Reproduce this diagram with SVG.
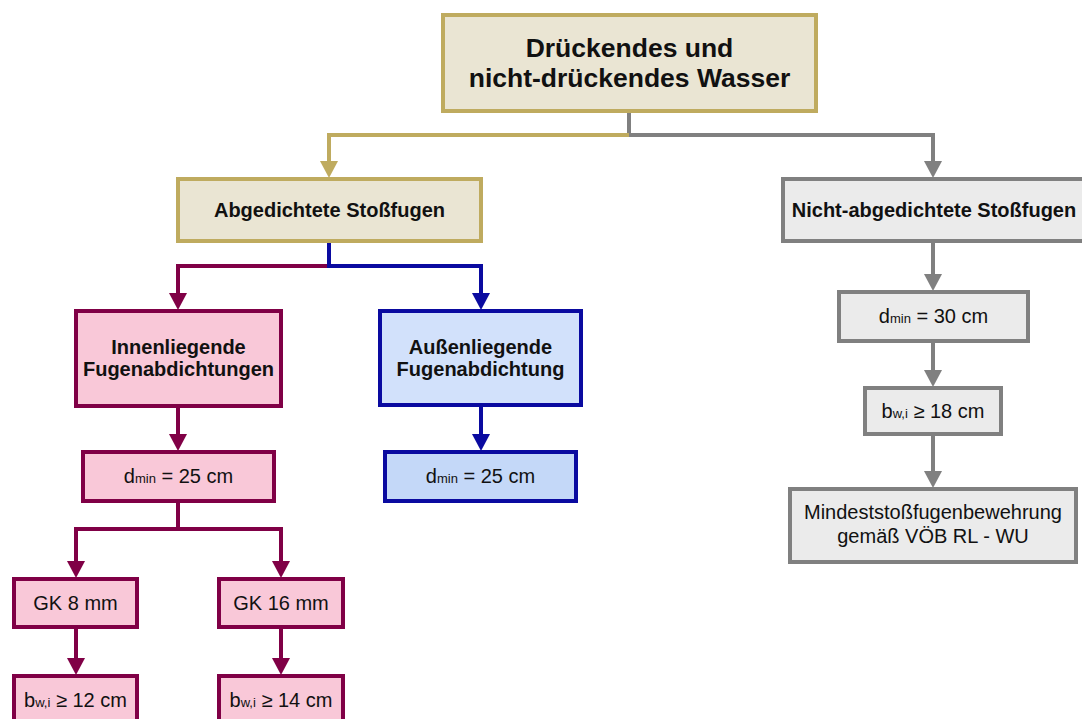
<svg xmlns="http://www.w3.org/2000/svg" width="1082" height="719" viewBox="0 0 1082 719">
  <defs>
    <style>
      text { font-family: "Liberation Sans", Arial, sans-serif; fill: #111; text-anchor: middle; }
      .title { font-size: 26.5px; font-weight: bold; }
      .head { font-size: 20px; font-weight: bold; }
      .reg { font-size: 20px; }
      .sub { font-size: 13px; }
      .box { stroke-width: 4; }
      .gold { fill: #EAE5D3; stroke: #BFAB5F; }
      .grey { fill: #EBEBEB; stroke: #808080; }
      .pink { fill: #F9C8D8; stroke: #800046; }
      .blue { fill: #D2E1FB; stroke: #0A0AA0; }
      .blue2 { fill: #C4D8F8; stroke: #0A0AA0; }
      .ln { fill: none; stroke-width: 4; }
      .lgold { stroke: #BFAB5F; }
      .lgrey { stroke: #808080; }
      .lpink { stroke: #800046; }
      .lblue { stroke: #0A0AA0; }
    </style>
    <marker id="aGold" markerUnits="userSpaceOnUse" markerWidth="17" markerHeight="18" viewBox="0 0 17 18" refX="0" refY="9" orient="auto">
      <path d="M0,0 L17,9 L0,18 z" fill="#BFAB5F"/>
    </marker>
    <marker id="aGrey" markerUnits="userSpaceOnUse" markerWidth="17" markerHeight="18" viewBox="0 0 17 18" refX="0" refY="9" orient="auto">
      <path d="M0,0 L17,9 L0,18 z" fill="#808080"/>
    </marker>
    <marker id="aPink" markerUnits="userSpaceOnUse" markerWidth="17" markerHeight="18" viewBox="0 0 17 18" refX="0" refY="9" orient="auto">
      <path d="M0,0 L17,9 L0,18 z" fill="#800046"/>
    </marker>
    <marker id="aBlue" markerUnits="userSpaceOnUse" markerWidth="17" markerHeight="18" viewBox="0 0 17 18" refX="0" refY="9" orient="auto">
      <path d="M0,0 L17,9 L0,18 z" fill="#0A0AA0"/>
    </marker>
  </defs>

  <rect width="1082" height="719" fill="#FFFFFF"/>

  <!-- connectors -->
  <g id="connectors">
    <!-- root split -->
    <polyline class="ln lgrey" points="629,113 629,135 933,135 933,161" marker-end="url(#aGrey)"/>
    <polyline class="ln lgold" points="629,135 329,135 329,161" marker-end="url(#aGold)"/>
    <!-- sealed joints split -->
    <polyline class="ln lpink" points="329,266 178,266 178,293" marker-end="url(#aPink)"/>
    <polyline class="ln lblue" points="329,243 329,266 481,266 481,293" marker-end="url(#aBlue)"/>
    <!-- inner seal chain -->
    <line class="ln lpink" x1="178" y1="408" x2="178" y2="434" marker-end="url(#aPink)"/>
    <polyline class="ln lpink" points="178,503 178,529 76,529 76,561" marker-end="url(#aPink)"/>
    <polyline class="ln lpink" points="178,529 281,529 281,561" marker-end="url(#aPink)"/>
    <line class="ln lpink" x1="76" y1="629" x2="76" y2="658" marker-end="url(#aPink)"/>
    <line class="ln lpink" x1="281" y1="629" x2="281" y2="658" marker-end="url(#aPink)"/>
    <!-- outer seal chain -->
    <line class="ln lblue" x1="481" y1="407" x2="481" y2="434" marker-end="url(#aBlue)"/>
    <!-- unsealed chain -->
    <line class="ln lgrey" x1="933" y1="243" x2="933" y2="274" marker-end="url(#aGrey)"/>
    <line class="ln lgrey" x1="933" y1="343" x2="933" y2="370" marker-end="url(#aGrey)"/>
    <line class="ln lgrey" x1="933" y1="436" x2="933" y2="471" marker-end="url(#aGrey)"/>
  </g>

  <g id="root">
    <rect class="box gold" x="443" y="15" width="373" height="96"/>
    <text class="title" x="629.5" y="57">Drückendes und</text>
    <text class="title" x="629.5" y="87">nicht-drückendes Wasser</text>
  </g>

  <g id="sealed">
    <rect class="box gold" x="178" y="179" width="303" height="62"/>
    <text class="head" x="329.5" y="217">Abgedichtete Stoßfugen</text>
  </g>

  <g id="unsealed">
    <rect class="box grey" x="783" y="179" width="310" height="62"/>
    <text class="head" x="934" y="217">Nicht-abgedichtete Stoßfugen</text>
  </g>

  <g id="inner-seal">
    <rect class="box pink" x="76" y="311" width="205" height="95"/>
    <text class="head" x="178.5" y="354">Innenliegende</text>
    <text class="head" x="178.5" y="376">Fugenabdichtungen</text>
  </g>

  <g id="outer-seal">
    <rect class="box blue" x="380" y="311" width="201" height="94"/>
    <text class="head" x="480.5" y="354">Außenliegende</text>
    <text class="head" x="480.5" y="376">Fugenabdichtung</text>
  </g>

  <g id="inner-dmin">
    <rect class="box pink" x="83" y="452" width="191" height="49"/>
    <text class="reg" x="178.5" y="483">d<tspan class="sub">min</tspan> = 25 cm</text>
  </g>

  <g id="outer-dmin">
    <rect class="box blue2" x="385" y="452" width="191" height="49"/>
    <text class="reg" x="480.5" y="483">d<tspan class="sub">min</tspan> = 25 cm</text>
  </g>

  <g id="gk8">
    <rect class="box pink" x="14" y="579" width="123" height="48"/>
    <text class="reg" x="75.5" y="610">GK 8 mm</text>
  </g>

  <g id="gk16">
    <rect class="box pink" x="219" y="579" width="124" height="48"/>
    <text class="reg" x="281" y="610">GK 16 mm</text>
  </g>

  <g id="bw12">
    <rect class="box pink" x="14" y="676" width="123" height="52"/>
    <text class="reg" x="75.5" y="707">b<tspan class="sub">w,i</tspan> ≥ 12 cm</text>
  </g>

  <g id="bw14">
    <rect class="box pink" x="219" y="676" width="124" height="52"/>
    <text class="reg" x="281" y="707">b<tspan class="sub">w,i</tspan> ≥ 14 cm</text>
  </g>

  <g id="unsealed-dmin">
    <rect class="box grey" x="839" y="292" width="189" height="49"/>
    <text class="reg" x="933.5" y="323">d<tspan class="sub">min</tspan> = 30 cm</text>
  </g>

  <g id="unsealed-bw">
    <rect class="box grey" x="865" y="388" width="136" height="46"/>
    <text class="reg" x="933" y="418">b<tspan class="sub">w,i</tspan> ≥ 18 cm</text>
  </g>

  <g id="reinforcement">
    <rect class="box grey" x="790" y="489" width="286" height="73"/>
    <text class="reg" x="933" y="519">Mindeststoßfugenbewehrung</text>
    <text class="reg" x="933" y="543">gemäß VÖB RL - WU</text>
  </g>
</svg>
